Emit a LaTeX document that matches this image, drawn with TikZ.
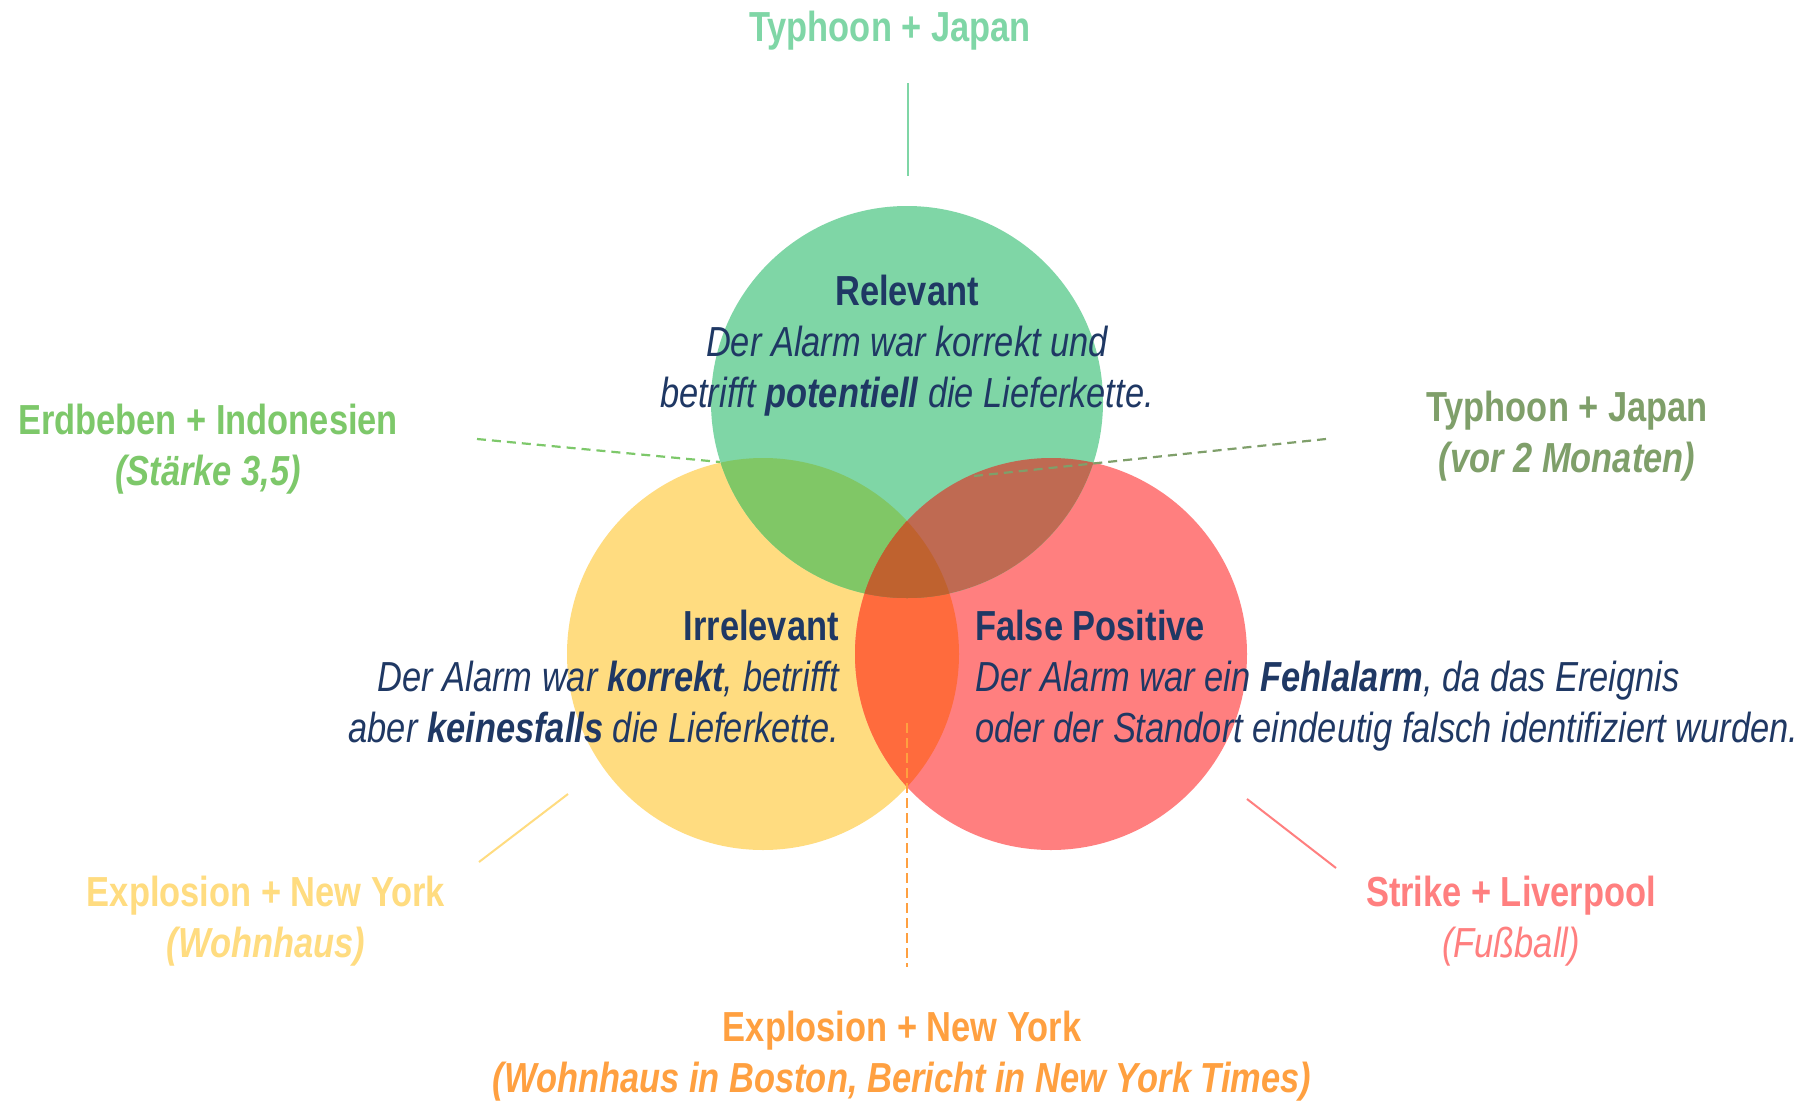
\documentclass[tikz,border=0pt]{standalone}
\usepackage{fontspec}
\setmainfont{Liberation Sans}[FakeStretch=0.82]
\definecolor{cgreen}{HTML}{7FD6A6}
\definecolor{cyellow}{HTML}{FFDC80}
\definecolor{cred}{HTML}{FF7F7F}
\definecolor{cgy}{HTML}{80C766}
\definecolor{cgr}{HTML}{BF6A52}
\definecolor{cyr}{HTML}{FF6B3D}
\definecolor{cgyr}{HTML}{BF622F}
\definecolor{navy}{HTML}{1F3864}
\definecolor{lgreen}{HTML}{7DC86A}
\definecolor{olive}{HTML}{7F9F6A}
\definecolor{corange}{HTML}{FFA040}
\begin{document}
\begin{tikzpicture}[x=1pt,y=-1pt,
  lbl/.style={font=\fontsize{42}{51}\selectfont\bfseries, align=center, inner sep=0pt},
  body/.style={font=\fontsize{42}{51}\selectfont\itshape, text=navy, inner sep=0pt},
  solidline/.style={line width=2pt},
  dashline/.style={line width=2.2pt, dash pattern=on 9pt off 6pt}]
\useasboundingbox (0,0) rectangle (1805,1101);
\fill[white] (0,0) rectangle (1805,1101);
% circles
\coordinate (cG) at (907,402);
\coordinate (cY) at (763,654);
\coordinate (cR) at (1051,654);
\fill[cyellow] (cY) circle[radius=196pt];
\fill[cred] (cR) circle[radius=196pt];
\fill[cgreen] (cG) circle[radius=196pt];
\begin{scope}
  \clip (cY) circle[radius=196pt];
  \fill[cyr] (cR) circle[radius=196pt];
  \fill[cgy] (cG) circle[radius=196pt];
  \clip (cR) circle[radius=196pt];
  \fill[cgyr] (cG) circle[radius=196pt];
\end{scope}
\begin{scope}
  \clip (cR) circle[radius=196pt];
  \clip (cG) circle[radius=196pt];
  \fill[cgr] (cR) circle[radius=196pt];
  \clip (cY) circle[radius=196pt];
  \fill[cgyr] (cR) circle[radius=196pt];
\end{scope}
% connector end points
\coordinate (topA) at (908,83);
\coordinate (topB) at (908,176);
\coordinate (erdA) at (477,439);
\coordinate (erdB) at (720,462);
\coordinate (typA) at (1326,439);
\coordinate (typB) at (974,476);
\coordinate (expA) at (479,862);
\coordinate (expB) at (568,794);
\coordinate (strA) at (1247,799);
\coordinate (strB) at (1336,868);
\coordinate (botA) at (907,723);
\coordinate (botB) at (907,967);
\draw[solidline, cgreen] (topA) -- (topB);
\draw[dashline, lgreen] (erdA) -- (erdB);
\draw[dashline, olive] (typA) -- (typB);
\draw[solidline, cyellow] (expA) -- (expB);
\draw[solidline, cred] (strA) -- (strB);
\draw[line width=2pt, dash pattern=on 10pt off 5pt, corange] (botA) -- (botB);
% labels
\node[lbl, text=cgreen] (ltop) at (890,31) {Typhoon + Japan};
\node[lbl, text=lgreen] (lerd) at (208,449) {Erdbeben + Indonesien\\\textit{(Stärke 3,5)}};
\node[lbl, text=olive] (ltyp) at (1567,436) {Typhoon + Japan\\\textit{(vor 2 Monaten)}};
\node[lbl, text=cyellow] (lexp) at (266,921) {Explosion + New York\\\textit{(Wohnhaus)}};
\node[lbl, text=cred] (lstr) at (1511,921) {Strike + Liverpool\\{\mdseries\itshape (Fußball)}};
\node[lbl, text=corange] (lbot) at (902,1056) {Explosion + New York\\\textit{(Wohnhaus in Boston, Bericht in New York Times)}};
% body texts
\node[body, align=center] (rel) at (907,346) {\textbf{\upshape Relevant}\\Der Alarm war korrekt und\\betrifft \textbf{potentiell} die Lieferkette.};
\node[body, align=right, anchor=east] (irr) at (839,676) {\textbf{\upshape Irrelevant}\\Der Alarm war \textbf{korrekt}, betrifft\\aber \textbf{keinesfalls} die Lieferkette.};
\node[body, align=left, anchor=west] (fp) at (975,681) {\textbf{\upshape False Positive}\\Der Alarm war ein \textbf{Fehlalarm}, da das Ereignis\\oder der Standort eindeutig falsch identifiziert wurden.};
\end{tikzpicture}
\end{document}
